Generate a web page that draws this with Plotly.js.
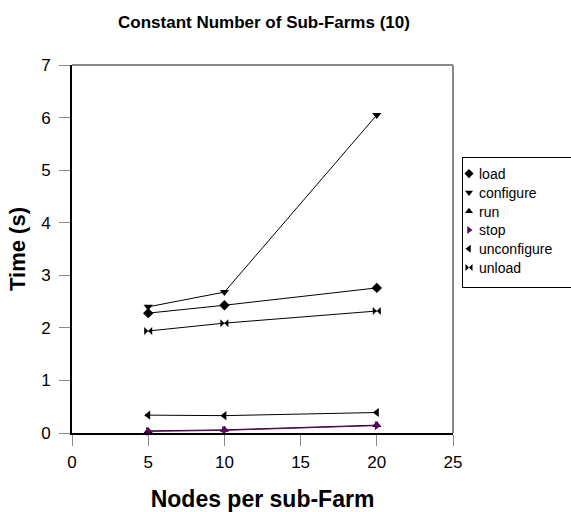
<!DOCTYPE html>
<html>
<head>
<meta charset="utf-8">
<script src="https://cdn.plot.ly/plotly-3.0.1.min.js"></script>
<style>html,body{margin:0;padding:0;background:#fff;}#chart{width:571px;height:512px;}</style>
</head>
<body>
<div id="chart"></div>
<script>
// Data
const nodes = [5, 10, 20];
const seriesNames = ["load", "configure", "run", "stop", "unconfigure", "unload"];
const load        = [2.28, 2.43, 2.76];
const configure   = [2.40, 2.68, 6.05];
const run         = [0.04, 0.06, 0.15];
const stop        = [0.03, 0.05, 0.14];
const unconfigure = [0.34, 0.33, 0.39];
const unload      = [1.94, 2.09, 2.32];
const xTicks = [0, 5, 10, 15, 20, 25];
const yTicks = [0, 1, 2, 3, 4, 5, 6, 7];

const values = [load, configure, run, stop, unconfigure, unload];
const symbols = ["diamond", "triangle-down", "triangle-up", "triangle-right", "triangle-left", "bowtie"];
const colors = ["#000000", "#000000", "#000000", "#660066", "#000000", "#000000"];

const traces = [];
values.forEach((v, i) => {
  traces.push({
    x: nodes, y: v, type: "scatter", mode: "lines+markers", name: seriesNames[i],
    line: {color: colors[i], width: 1},
    marker: {symbol: symbols[i], size: 8, color: colors[i]},
    cliponaxis: false, showlegend: false
  });
});
values.forEach((v, i) => {
  traces.push({
    x: [null], y: [null], type: "scatter", mode: "markers", name: seriesNames[i],
    marker: {symbol: symbols[i], size: 7, color: colors[i]},
    showlegend: true
  });
});

const layout = {
  width: 571, height: 512,
  margin: {l: 72, r: 118, t: 65, b: 79, autoexpand: false},
  paper_bgcolor: "#ffffff", plot_bgcolor: "#ffffff",
  font: {family: "Liberation Sans, Arial, sans-serif", color: "#000"},
  title: {text: "<b>Constant Number of Sub-Farms (10)</b>", font: {size: 17},
          x: 0.4623, xanchor: "center", y: 0.957, yanchor: "middle"},
  xaxis: {
    range: [0, 25], tickvals: xTicks, ticktext: xTicks.map(String),
    showgrid: false, zeroline: false,
    showline: true, linecolor: "#000", linewidth: 2,
    ticks: "outside", ticklen: 11, tickcolor: "#888", tickwidth: 1,
    ticklabelstandoff: 2,
    tickfont: {size: 17},
    title: {text: "<b>Nodes per sub-Farm</b>", font: {size: 23}, standoff: 19}
  },
  yaxis: {
    range: [0, 7], tickvals: yTicks, ticktext: yTicks.map(String),
    showgrid: false, zeroline: false,
    showline: true, linecolor: "#000", linewidth: 2,
    ticks: "outside", ticklen: 11, tickcolor: "#888", tickwidth: 1,
    ticklabelstandoff: 5,
    tickfont: {size: 17},
    title: {text: "<b>Time (s)</b>", font: {size: 22}, standoff: 9}
  },
  shapes: [
    {type: "line", xref: "paper", yref: "paper", x0: 0, x1: 1, y0: 1, y1: 1, line: {color: "#888", width: 2}},
    {type: "line", xref: "paper", yref: "paper", x0: 1, x1: 1, y0: 0, y1: 1, line: {color: "#888", width: 2}}
  ],
  legend: {
    x: (462 - 72) / 381, xanchor: "left", y: (433 - 157) / 368, yanchor: "top",
    bgcolor: "#fff", bordercolor: "#000", borderwidth: 1,
    font: {size: 14}, itemwidth: 30, tracegroupgap: 0
  },
  showlegend: true
};

Plotly.newPlot("chart", traces, layout, {staticPlot: true, displayModeBar: false}).then(gd => {
  // Excel-style compact legend: symbol close to the left border, text right after it
  gd.querySelectorAll("g.legend text.legendtext").forEach(t => t.setAttribute("x", "16"));
  gd.querySelectorAll("g.legend g.legendpoints").forEach(g => g.setAttribute("transform", "translate(-14,0)"));
  const items = gd.querySelectorAll("g.legend g.traces");
  let y0 = null;
  items.forEach((g, i) => {
    const m = /translate\(\s*([-\d.]+)[ ,]+([-\d.]+)\s*\)/.exec(g.getAttribute("transform") || "");
    if (!m) return;
    if (y0 === null) y0 = parseFloat(m[2]);
    g.setAttribute("transform", "translate(" + m[1] + "," + (y0 + i * 18.8) + ")");
  });
  const bg = gd.querySelector("g.legend rect.bg");
  if (bg) { bg.setAttribute("width", "130"); bg.setAttribute("height", "130"); }
});
</script>
</body>
</html>
